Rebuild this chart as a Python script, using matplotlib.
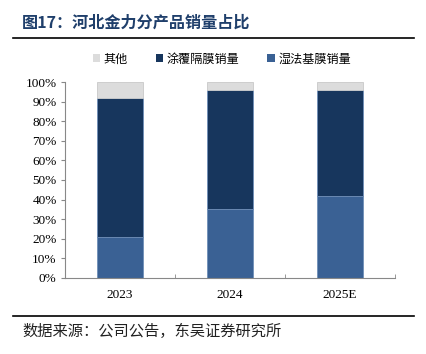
import matplotlib
matplotlib.use('Agg')
import matplotlib.pyplot as plt
from matplotlib.patches import Patch
from matplotlib.lines import Line2D
from matplotlib.ticker import PercentFormatter

years = ['2023', '2024', '2025E']
wet = [21, 35, 42]        # 湿法基膜销量
coated = [71, 61, 54]     # 涂覆隔膜销量
other = [8, 4, 4]         # 其他

CJK = ['Noto Sans CJK SC', 'DejaVu Sans']
SERIF = ['Liberation Serif', 'DejaVu Serif']

c_wet = '#3a6194'
c_coated = '#17365d'
c_other = '#dcdcdc'

fig = plt.figure(figsize=(4.27, 3.54), dpi=100)
ax = fig.add_axes([65 / 427, 1 - 277.7 / 354, 330 / 427, 195.4 / 354])

x = list(range(len(years)))
w = 0.41
wet_f = [v / 100 for v in wet]
coat_f = [v / 100 for v in coated]
oth_f = [v / 100 for v in other]
base2 = [a + b for a, b in zip(wet_f, coat_f)]

ax.bar(x, wet_f, w, color=c_wet, edgecolor='#6f8fb8', linewidth=0.6)
ax.bar(x, coat_f, w, bottom=wet_f, color=c_coated, edgecolor='#6f8fb8', linewidth=0.6)
ax.bar(x, oth_f, w, bottom=base2, color=c_other, edgecolor='#c8c8c8', linewidth=0.6)

ax.set_xlim(-0.5, 2.5)
ax.set_ylim(0, 1.0)
ax.set_yticks([i / 10 for i in range(11)])
ax.yaxis.set_major_formatter(PercentFormatter(1.0, decimals=0))
ax.set_xticks(x)
ax.set_xticklabels(years)
ax.tick_params(axis='x', length=0, pad=8)
ax.set_xticks([0.5, 1.5, 2.5], minor=True)
ax.tick_params(axis='x', which='minor', length=3, direction='in', color='#888888')
ax.tick_params(axis='y', length=3, color='#888888', pad=3)
for lab in ax.get_xticklabels() + ax.get_yticklabels():
    lab.set_family(SERIF)
    lab.set_fontsize(9.5)
for s in ['top', 'right']:
    ax.spines[s].set_visible(False)
for s in ['left', 'bottom']:
    ax.spines[s].set_color('#888888')
    ax.spines[s].set_linewidth(0.8)

handles = [Patch(facecolor=c_other), Patch(facecolor=c_coated), Patch(facecolor=c_wet)]
labels = ['其他', '涂覆隔膜销量', '湿法基膜销量']
fig.legend(handles, labels, loc='center', bbox_to_anchor=(0.52, 1 - 59 / 354), ncol=3,
           frameon=False, prop={'family': CJK, 'size': 8.7}, handlelength=0.6, handleheight=0.6,
           handletextpad=0.3, columnspacing=2.3)

fig.text(22 / 427, 1 - 23 / 354, '图17：河北金力分产品销量占比', family=CJK, fontsize=11.6,
         fontweight='bold', color='#1f3f6b', va='center', ha='left')
fig.add_artist(Line2D([13 / 427, 414 / 427], [1 - 38 / 354] * 2, color='black', lw=1.2))
fig.add_artist(Line2D([13 / 427, 414 / 427], [1 - 315.5 / 354] * 2, color='black', lw=1.2))
fig.text(22 / 427, 1 - 331 / 354, '数据来源：公司公告，东吴证券研究所', family=CJK, fontsize=11,
         color='#222222', va='center', ha='left')

fig.savefig('out.png', dpi=100)
